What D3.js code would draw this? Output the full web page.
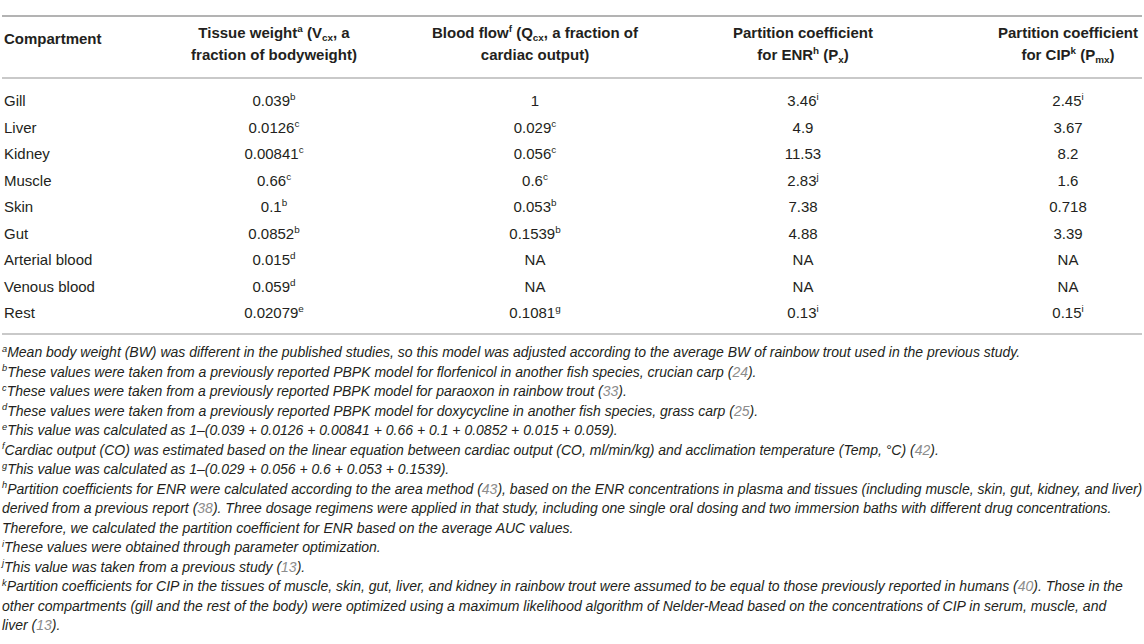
<!DOCTYPE html>
<html>
<head>
<meta charset="utf-8">
<script src="https://cdn.jsdelivr.net/npm/d3@7/dist/d3.min.js"></script>
<style>
html,body{margin:0;padding:0;background:#fff;}
svg{display:block;font-family:"Liberation Sans",Arial,Helvetica,sans-serif;}
</style>
</head>
<body>
<svg id="c" width="1144" height="644"></svg>
<script>
// ---- data ----
const compartments = ["Gill","Liver","Kidney","Muscle","Skin","Gut","Arterial blood","Venous blood","Rest"];
const tissueWeight = ["0.039","0.0126","0.00841","0.66","0.1","0.0852","0.015","0.059","0.02079"];
const tissueWeightNote = ["b","c","c","c","b","b","d","d","e"];
const bloodFlow = ["1","0.029","0.056","0.6","0.053","0.1539","NA","NA","0.1081"];
const bloodFlowNote = ["","c","c","c","b","b","","","g"];
const partitionENR = ["3.46","4.9","11.53","2.83","7.38","4.88","NA","NA","0.13"];
const partitionENRNote = ["i","","","j","","","","","i"];
const partitionCIP = ["2.45","3.67","8.2","1.6","0.718","3.39","NA","NA","0.15"];
const partitionCIPNote = ["i","","","","","","","","i"];

// header segments: [text, kind] kind: n normal, sup, sub
const headers = [
  [[["Compartment","n"]]],
  [[["Tissue weight","n"],["a","sup"],[" (V","n"],["cx","sub"],[", a","n"]],[["fraction of bodyweight)","n"]]],
  [[["Blood flow","n"],["f","sup"],[" (Q","n"],["cx","sub"],[", a fraction of","n"]],[["cardiac output)","n"]]],
  [[["Partition coefficient","n"]],[["for ENR","n"],["h","sup"],[" (P","n"],["x","sub"],[")","n"]]],
  [[["Partition coefficient","n"]],[["for CIP","n"],["k","sup"],[" (P","n"],["mx","sub"],[")","n"]]]
];

// footnote lines: segments [text, kind] kind: n, sup, ref
const footnotes = [
  [["a","sup"],["Mean body weight (BW) was different in the published studies, so this model was adjusted according to the average BW of rainbow trout used in the previous study.","n"]],
  [["b","sup"],["These values were taken from a previously reported PBPK model for florfenicol in another fish species, crucian carp (","n"],["24","ref"],[").","n"]],
  [["c","sup"],["These values were taken from a previously reported PBPK model for paraoxon in rainbow trout (","n"],["33","ref"],[").","n"]],
  [["d","sup"],["These values were taken from a previously reported PBPK model for doxycycline in another fish species, grass carp (","n"],["25","ref"],[").","n"]],
  [["e","sup"],["This value was calculated as 1–(0.039 + 0.0126 + 0.00841 + 0.66 + 0.1 + 0.0852 + 0.015 + 0.059).","n"]],
  [["f","sup"],["Cardiac output (CO) was estimated based on the linear equation between cardiac output (CO, ml/min/kg) and acclimation temperature (Temp, °C) (","n"],["42","ref"],[").","n"]],
  [["g","sup"],["This value was calculated as 1–(0.029 + 0.056 + 0.6 + 0.053 + 0.1539).","n"]],
  [["h","sup"],["Partition coefficients for ENR were calculated according to the area method (","n"],["43","ref"],["), based on the ENR concentrations in plasma and tissues (including muscle, skin, gut, kidney, and liver)","n"]],
  [["derived from a previous report (","n"],["38","ref"],["). Three dosage regimens were applied in that study, including one single oral dosing and two immersion baths with different drug concentrations.","n"]],
  [["Therefore, we calculated the partition coefficient for ENR based on the average AUC values.","n"]],
  [["i","sup"],["These values were obtained through parameter optimization.","n"]],
  [["j","sup"],["This value was taken from a previous study (","n"],["13","ref"],[").","n"]],
  [["k","sup"],["Partition coefficients for CIP in the tissues of muscle, skin, gut, liver, and kidney in rainbow trout were assumed to be equal to those previously reported in humans (","n"],["40","ref"],["). Those in the","n"]],
  [["other compartments (gill and the rest of the body) were optimized using a maximum likelihood algorithm of Nelder-Mead based on the concentrations of CIP in serum, muscle, and","n"]],
  [["liver (","n"],["13","ref"],[").","n"]]
];

// ---- layout ----
const W = 1144;
const svg = d3.select("#c");
const textColor = "#231f20";
const bodySize = 15;

const colX = d3.scaleOrdinal().domain([0,1,2,3,4]).range([4, 274, 535, 803, 1068]);
const colAnchor = i => i === 0 ? "start" : "middle";
const rowY = d3.scalePoint().domain(d3.range(compartments.length)).range([106, 318]);
const footY = d3.scalePoint().domain(d3.range(footnotes.length)).range([357, 630]);

// rules
const rules = [{y:16, w:1.3, c:"#9a9a9a"},{y:78, w:2, c:"#c9c9c9"},{y:334, w:2, c:"#c9c9c9"}];
svg.selectAll("line.rule").data(rules).join("line")
  .attr("x1", 2).attr("x2", W-2).attr("y1", d=>d.y).attr("y2", d=>d.y)
  .attr("stroke", d=>d.c).attr("stroke-width", d=>d.w);

function addSegs(textSel, segs, size) {
  let shift = 0;
  segs.forEach(([t, k]) => {
    const ts = textSel.append("tspan").text(t);
    let target = 0, fs = size;
    if (k === "sup") { target = -size*0.38; fs = size*0.66; }
    else if (k === "sub") { target = size*0.18; fs = size*0.66; }
    ts.attr("font-size", fs);
    if (target !== shift) { ts.attr("dy", target - shift); shift = target; }
    if (k === "ref") ts.attr("fill", "#8c8c8c");
  });
}

// header
headers.forEach((lines, ci) => {
  const ys = lines.length === 1 ? [44] : [38, 60];
  lines.forEach((segs, li) => {
    const t = svg.append("text")
      .attr("x", colX(ci)).attr("y", ys[li])
      .attr("text-anchor", colAnchor(ci))
      .attr("font-weight", "bold").attr("fill", textColor)
      .attr("font-size", bodySize);
    addSegs(t, segs, bodySize);
  });
});

// body rows
const columns = [
  [compartments, null],
  [tissueWeight, tissueWeightNote],
  [bloodFlow, bloodFlowNote],
  [partitionENR, partitionENRNote],
  [partitionCIP, partitionCIPNote]
];
columns.forEach(([vals, notes], ci) => {
  svg.append("g").selectAll("text").data(vals).join("text")
    .attr("x", colX(ci)).attr("y", (d,i)=>rowY(i))
    .attr("text-anchor", colAnchor(ci))
    .attr("fill", textColor).attr("font-size", bodySize)
    .each(function(d,i){
      const segs = [[d,"n"]];
      if (notes && notes[i]) segs.push([notes[i],"sup"]);
      addSegs(d3.select(this), segs, bodySize);
    });
});

// footnotes
const footSize = 14;
svg.append("g").selectAll("text").data(footnotes).join("text")
  .attr("x", 2).attr("y", (d,i)=>footY(i))
  .attr("font-style", "italic").attr("fill", textColor).attr("font-size", footSize)
  .each(function(d){ addSegs(d3.select(this), d, footSize); });
</script>
</body>
</html>
